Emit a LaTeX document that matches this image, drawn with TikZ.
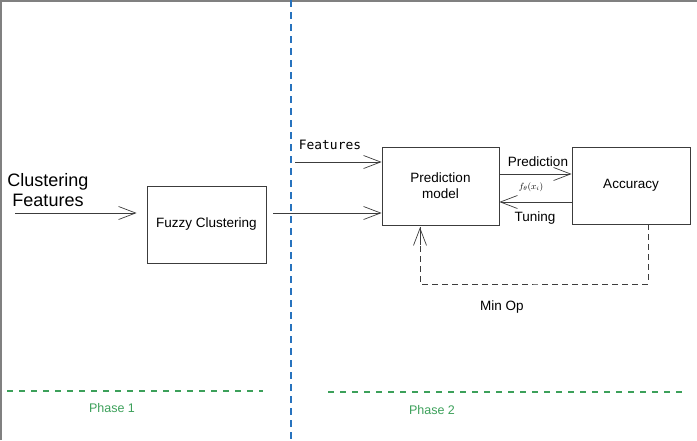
\documentclass[tikz,border=0pt]{standalone}
\usepackage{fontspec}
\setmainfont{Liberation Sans}
\setmonofont{DejaVu Sans Mono}
\usetikzlibrary{arrows.meta}
\definecolor{phasegreen}{RGB}{60,160,90}
\definecolor{splitblue}{RGB}{40,115,190}
\definecolor{edgegray}{RGB}{60,60,60}
\begin{document}
\begin{tikzpicture}[x=1pt,y=-1pt,
    block/.style={draw=edgegray,line width=0.8pt,rectangle,inner sep=0pt,
      align=center,font=\fontsize{13.5}{16}\selectfont},
    lbl/.style={inner sep=0pt,font=\fontsize{13.5}{16}\selectfont},
    flow/.style={draw=edgegray,line width=0.7pt,
      -{Straight Barb[length=17pt,width=13pt,line width=0.7pt]}},
    phaseline/.style={draw=phasegreen,line width=1.6pt,dash pattern=on 6pt off 6pt},
    phaselbl/.style={inner sep=0pt,text=phasegreen,font=\fontsize{12.5}{15}\selectfont}]
  \useasboundingbox (0,0) rectangle (697,440);
  \draw[gray,line width=1.5pt] (0.75,440) -- (0.75,0.75) -- (697,0.75);
  \draw[splitblue,line width=1.8pt,dash pattern=on 7pt off 5pt] (291,0) -- (291,440);
  \draw[phaseline] (7,391) -- (263,391);
  \draw[phaseline] (328,392) -- (683,392);
  \draw
    (48,190) node[lbl,align=center,font=\fontsize{18}{20}\selectfont] (cf){Clustering\\Features}
    (206.5,224.5) node[block,minimum width=119pt,minimum height=77pt] (fuzzy){Fuzzy Clustering}
    (440.5,186) node[block,minimum width=117pt,minimum height=78pt] (pred){Prediction\\model}
    (631,185.5) node[block,minimum width=118pt,minimum height=77pt] (acc){Accuracy}
    (330,145) node[lbl,font=\fontsize{12.9}{15}\ttfamily] (feat){Features}
    (538,162) node[lbl] (predlbl){Prediction}
    (531,187) node[lbl,font=\fontsize{9}{11}\selectfont] (flbl){$f_\theta(x_i)$}
    (535,218) node[lbl] (tunlbl){Tuning}
    (502,307) node[lbl] (minop){Min Op}
    (112,408) node[phaselbl] (ph1){Phase 1}
    (432,410) node[phaselbl] (ph2){Phase 2};
  \coordinate (cfin) at (15,213);
  \coordinate (fzout) at (273,213);
  \coordinate (featin) at (295,162);
  \coordinate (predout) at (499,174);
  \coordinate (tunin) at (572,202);
  \coordinate (loop) at (534,284);
  \coordinate (mintip) at ([xshift=-20.5pt,yshift=-2pt]pred.south);
  \begin{scope}[flow]
    \draw (cfin) to ([xshift=-10pt]cfin -| fuzzy.west);
    \draw (fzout) to (fzout -| pred.west);
    \draw (featin) to (featin -| pred.west);
    \draw (predout) to (predout -| acc.west);
    \draw (tunin) to (tunin -| pred.east);
    \draw[-] [line width=0.9pt,dash pattern=on 6pt off 4pt] ([xshift=17pt]acc.south) |- (loop) -| (mintip);
    \draw ([yshift=-18pt]mintip) to (mintip);
  \end{scope}
\end{tikzpicture}
\end{document}
